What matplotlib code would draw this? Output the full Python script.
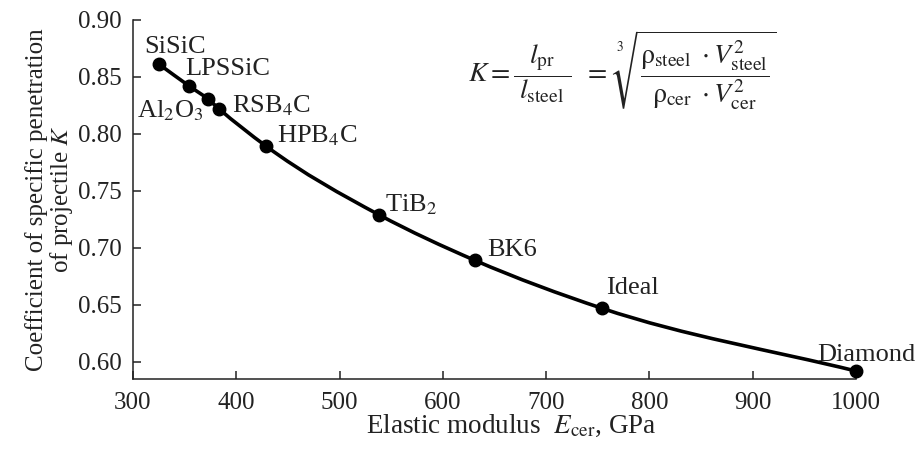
import matplotlib
matplotlib.use("Agg")
import matplotlib.pyplot as plt
import numpy as np
from matplotlib.path import Path
from matplotlib.patches import PathPatch

# Data
materials = ["SiSiC", "LPSSiC", "Al$_2$O$_3$", "RSB$_4$C", "HPB$_4$C",
             "TiB$_2$", "BK6", "Ideal", "Diamond"]
modulus = [325, 354, 373, 383, 429, 538, 631, 754, 1000]
k_coef = [0.861, 0.842, 0.830, 0.822, 0.789, 0.729, 0.689, 0.647, 0.592]

# label offsets in pixels (dx, dy, horizontal alignment)
label_offsets = [(-15, 11, "left"), (-4, 11, "left"), (-5, -18, "right"),
                 (13, -4, "left"), (11, 4, "left"), (6, 3, "left"),
                 (12, 4, "left"), (4, 14, "left"), (-39, 10, "left")]

plt.rcParams["font.family"] = ["Liberation Serif", "DejaVu Serif"]
plt.rcParams["mathtext.fontset"] = "stix"

fig = plt.figure(figsize=(9.21, 4.55), dpi=100)
ax = fig.add_axes([0.1444, 0.167, 0.785, 0.790])

# smooth curve through the points (cubic Hermite drawn as Bezier path)
x = np.array(modulus, dtype=float)
y = np.array(k_coef, dtype=float)
m = np.gradient(y, x)
verts = [(x[0], y[0])]
codes = [Path.MOVETO]
for i in range(len(x) - 1):
    h = x[i + 1] - x[i]
    verts += [(x[i] + h / 3, y[i] + m[i] * h / 3),
              (x[i + 1] - h / 3, y[i + 1] - m[i + 1] * h / 3),
              (x[i + 1], y[i + 1])]
    codes += [Path.CURVE4] * 3
ax.add_patch(PathPatch(Path(verts, codes), fill=False, lw=2.6,
                       edgecolor="black", zorder=2, clip_on=False))
ax.plot(modulus, k_coef, ls="none", color="black", marker="o", ms=9,
        clip_on=False, zorder=3)

for name, xi, yi, (dx, dy, ha) in zip(materials, modulus, k_coef, label_offsets):
    ax.annotate(name, (xi, yi), xytext=(dx, dy), textcoords="offset pixels",
                ha=ha, va="baseline", fontsize=19, color="#222222")

ax.set_xlim(300, 1000)
ax.set_ylim(0.585, 0.90)
ax.set_xticks([300, 400, 500, 600, 700, 800, 900, 1000])
ax.set_yticks([0.60, 0.65, 0.70, 0.75, 0.80, 0.85, 0.90])
ax.set_yticklabels(["0.60", "0.65", "0.70", "0.75", "0.80", "0.85", "0.90"])
ax.tick_params(direction="in", length=6, width=1.1, labelsize=18,
               colors="#222222")
ax.tick_params(axis="x", pad=9)
ax.tick_params(axis="y", pad=8)
ax.spines["top"].set_visible(False)
ax.spines["right"].set_visible(False)
for s in ("left", "bottom"):
    ax.spines[s].set_linewidth(1.1)
    ax.spines[s].set_color("#222222")

ax.set_ylabel("Coefficient of specific penetration\nof projectile $K$",
              fontsize=18, linespacing=1.0, labelpad=2, color="#222222")
fig.text(511 / 921, 1 - 433 / 455,
         r"Elastic modulus  $E_{\mathrm{cer}}$, GPa",
         ha="center", va="baseline", fontsize=19.5, color="#222222")

formula = (r"$K = \dfrac{\;l_{\mathrm{pr}}\;}{\;l_{\mathrm{steel}}\;}\;\; = \;"
           r"\sqrt[3]{\dfrac{\mathrm{\rho}_{\mathrm{steel}}\ \cdot V^{2}_{\mathrm{steel}}}"
           r"{\mathrm{\rho}_{\mathrm{cer}}\ \cdot V^{2}_{\mathrm{cer}}}}$")
fig.text(468 / 921, 1 - 70 / 455, formula, ha="left", va="center",
         fontsize=20, color="#222222")

fig.savefig("out.png", dpi=100)
